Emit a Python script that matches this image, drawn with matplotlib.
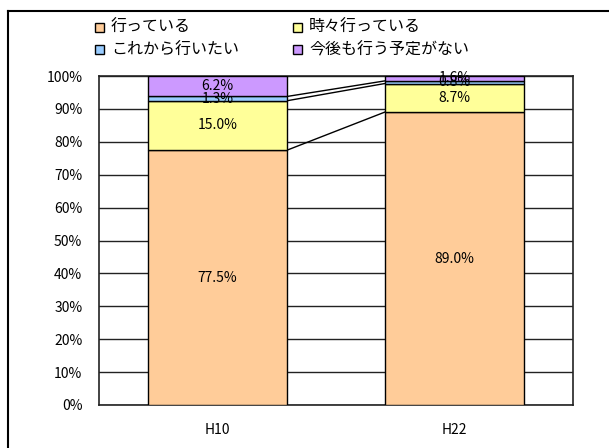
import matplotlib
matplotlib.use("Agg")
import matplotlib.pyplot as plt
from matplotlib.patches import Rectangle
from matplotlib.lines import Line2D
import numpy as np

plt.rcParams['font.family'] = ['Noto Sans CJK JP', 'DejaVu Sans']

categories = ["H10", "H22"]
series_names = ["行っている", "時々行っている", "これから行いたい", "今後も行う予定がない"]
series_values = [
    [77.5, 89.0],
    [15.0, 8.7],
    [1.3, 0.8],
    [6.2, 1.6],
]
colors = ["#FFCC99", "#FFFF99", "#99CCFF", "#CC99FF"]
yticks = [0, 10, 20, 30, 40, 50, 60, 70, 80, 90, 100]
ytick_labels = [f"{t}%" for t in yticks]

W, H = 609, 448
fig = plt.figure(figsize=(W / 100, H / 100), dpi=100)
ax = fig.add_axes([99 / W, 1 - 405 / H, (573 - 99) / W, (405 - 76) / H])

x = np.arange(len(categories))
width = 0.59
bottom = np.zeros(len(categories))
tops = []
for vals, col in zip(series_values, colors):
    vals = np.array(vals)
    ax.bar(x, vals, width, bottom=bottom, color=col, edgecolor="black", linewidth=1.0, zorder=3)
    for xi, b, v in zip(x, bottom, vals):
        ax.text(xi, b + v / 2, f"{v:.1f}%", ha="center", va="center", fontsize=10, zorder=5)
    bottom = bottom + vals
    tops.append(bottom.copy())

# series lines
for t in tops:
    ax.plot([x[0] + width / 2, x[1] - width / 2], [t[0], t[1]], color="black", linewidth=1.0, zorder=2)

ax.set_ylim(0, 100)
ax.set_xlim(-0.5, 1.5)
ax.set_yticks(yticks)
ax.set_yticklabels(ytick_labels, fontsize=10)
ax.set_xticks(x)
ax.set_xticklabels(categories, fontsize=10)
ax.tick_params(axis="y", length=0, pad=12)
ax.tick_params(axis="x", length=0, pad=13)
ax.yaxis.grid(True, color="#222222", linewidth=1.0, zorder=1)
ax.set_axisbelow(True)
for s in ax.spines.values():
    s.set_color("#222222")
    s.set_linewidth(1.2)

# outer chart frame (extends beyond right and bottom)
fig.add_artist(Line2D([7.5 / W, 7.5 / W], [-0.1, 1 - 11.5 / H], transform=fig.transFigure, color="black", linewidth=1.5))
fig.add_artist(Line2D([7.5 / W, 1.1], [1 - 11.5 / H, 1 - 11.5 / H], transform=fig.transFigure, color="black", linewidth=1.5))

# legend (2 columns)
leg_pos = [(95, 27.5), (293, 27.5), (95, 50), (293, 50)]
for (px, py), name, col in zip(leg_pos, series_names, colors):
    fig.add_artist(Rectangle((px / W, 1 - (py + 4.5) / H), 9 / W, 9 / H, transform=fig.transFigure,
                             facecolor=col, edgecolor="black", linewidth=1.0))
    fig.text((px + 16) / W, 1 - py / H, name, ha="left", va="center", fontsize=11.5)

fig.savefig("out.png", dpi=100)
